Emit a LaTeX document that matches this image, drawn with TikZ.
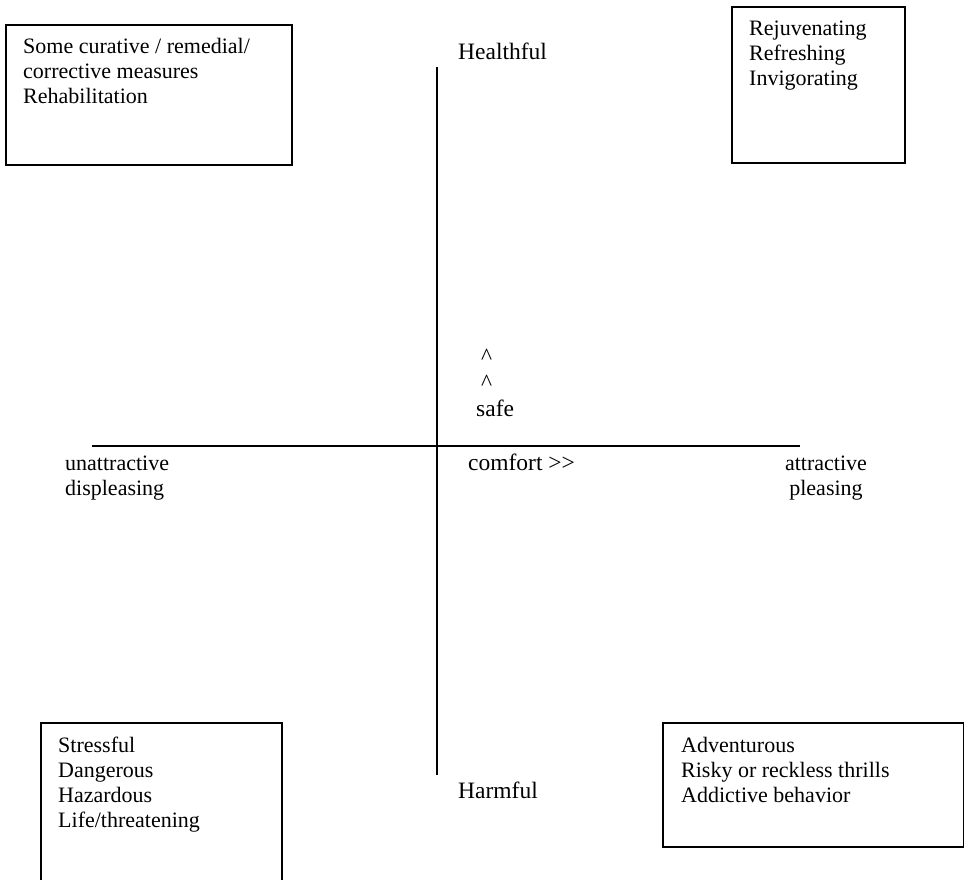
\documentclass[tikz,border=0pt]{standalone}
\usepackage{fontspec}
\setmainfont{Liberation Serif}
\usepackage{tikz}

\tikzset{
  quadbox/.style={draw, line width=1.5pt, inner sep=0pt, anchor=north west},
  boxtext/.style={align=left, inner sep=0pt, anchor=base west},
  axislabel/.style={inner sep=0pt, anchor=base west, font=\fontsize{23.5}{25}\selectfont},
}

\begin{document}
\begin{tikzpicture}[x=1pt,y=-1pt,font=\fontsize{22}{25}\selectfont]
    \useasboundingbox (0,0) rectangle (964,879);

    % axes
    \coordinate (healthy end) at (437,67);
    \coordinate (harmful end) at (437,775);
    \coordinate (unattr end) at (92,446);
    \coordinate (attr end) at (800,446);
    \draw[line width=1.5pt] (healthy end) -- (harmful end);
    \draw[line width=1.5pt] (unattr end) -- (attr end);

    % axis labels (base of a multi-line node = its last line)
    \node[axislabel] (healthful) at (458,59) {Healthful};
    \node[axislabel] (harmful) at (458,798) {Harmful};
    \node[axislabel] (up1) at (481,364) {\textasciicircum};
    \node[axislabel] (up2) at (481,390) {\textasciicircum};
    \node[axislabel] (safe) at (476,416) {safe};
    \node[axislabel] (comfort) at (468,470) {comfort >{}>};
    \node[boxtext] (unattr) at (65,495) {unattractive\\displeasing};
    \node[align=center, inner sep=0pt, anchor=base] (attr) at (826,495) {attractive\\pleasing};

    % quadrant boxes
    \node[quadbox, minimum width=286pt, minimum height=140pt] (cure) at (5,24) {};
    \node[boxtext] (cure text) at (23,103) {Some curative / remedial/\\corrective measures\\Rehabilitation};

    \node[quadbox, minimum width=173pt, minimum height=156pt] (fresh) at (731,6) {};
    \node[boxtext] (fresh text) at (749,85) {Rejuvenating\\Refreshing\\Invigorating};

    \node[quadbox, minimum width=241pt, minimum height=200pt] (stress) at (40,722) {};
    \node[boxtext] (stress text) at (58,827) {Stressful\\Dangerous\\Hazardous\\Life/threatening};

    \node[quadbox, minimum width=301pt, minimum height=124pt] (thrill) at (662,722) {};
    \node[boxtext] (thrill text) at (681,802) {Adventurous\\Risky or reckless thrills\\Addictive behavior};
\end{tikzpicture}
\end{document}
